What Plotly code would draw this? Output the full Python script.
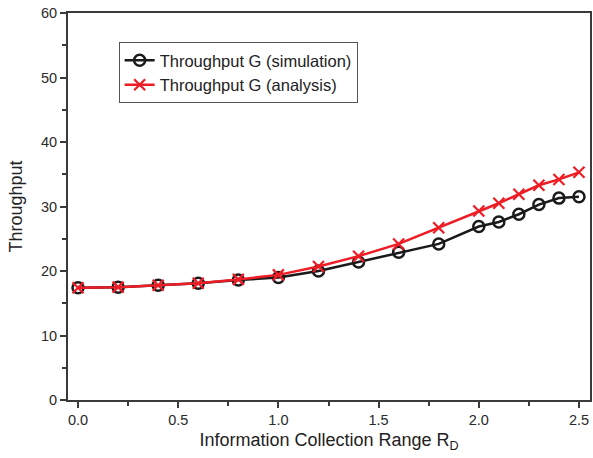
import plotly.graph_objects as go

x_vals = [0.0, 0.2, 0.4, 0.6, 0.8, 1.0, 1.2, 1.4, 1.6, 1.8, 2.0, 2.1, 2.2, 2.3, 2.4, 2.5]
sim_vals = [17.4, 17.5, 17.8, 18.1, 18.6, 19.0, 20.0, 21.4, 22.9, 24.2, 26.9, 27.6, 28.8, 30.3, 31.3, 31.5]
ana_vals = [17.4, 17.5, 17.8, 18.1, 18.7, 19.4, 20.7, 22.3, 24.2, 26.7, 29.3, 30.5, 31.9, 33.3, 34.2, 35.3]
x_ticks = [0.0, 0.5, 1.0, 1.5, 2.0, 2.5]
x_ticklabels = ["0.0", "0.5", "1.0", "1.5", "2.0", "2.5"]
y_ticks = [0, 10, 20, 30, 40, 50, 60]

axis_color = "#3a3a3a"
font_fam = "Liberation Sans, Arial, sans-serif"

fig = go.Figure()
fig.add_trace(go.Scatter(
    x=x_vals, y=sim_vals, mode="lines+markers", name="Throughput G (simulation)",
    line=dict(color="#1a1a1a", width=2.5),
    marker=dict(symbol="circle-open", size=11, color="#1a1a1a", line=dict(width=2.5)),
))
fig.add_trace(go.Scatter(
    x=x_vals, y=ana_vals, mode="lines+markers", name="Throughput G (analysis)",
    line=dict(color="#ee1c25", width=2.5),
    marker=dict(symbol="x-thin-open", size=11, color="#ee1c25", line=dict(width=2.2, color="#ee1c25")),
))

fig.update_layout(
    width=593, height=458,
    margin=dict(l=68, r=3, t=13, b=58),
    paper_bgcolor="white", plot_bgcolor="white",
    font=dict(family=font_fam, size=14, color=axis_color),
    showlegend=True,
    legend=dict(
        x=0.097, y=0.925, xanchor="left", yanchor="top",
        bgcolor="white", bordercolor="#555555", borderwidth=1,
        font=dict(size=16.5, color="#222222"),
        tracegroupgap=0, itemwidth=30,
    ),
    xaxis=dict(
        range=[-0.05, 2.555], tickvals=x_ticks, ticktext=x_ticklabels,
        showline=True, linecolor=axis_color, linewidth=2, mirror=True,
        ticks="outside", ticklen=6, tickwidth=1.5, tickcolor=axis_color,
        minor=dict(dtick=0.25, tick0=0, ticks="outside", ticklen=4, tickwidth=1.5, tickcolor=axis_color, showgrid=False),
        showgrid=False, zeroline=False, automargin=False,
        title=dict(text="Information Collection Range R<sub>D</sub>", font=dict(size=18, color="#222222"), standoff=6),
        tickfont=dict(size=14.5, color="#2a2a2a"),
    ),
    yaxis=dict(
        range=[0, 60], tickvals=y_ticks,
        showline=True, linecolor=axis_color, linewidth=2, mirror=True,
        ticks="outside", ticklen=6, tickwidth=1.5, tickcolor=axis_color,
        minor=dict(dtick=5, tick0=0, ticks="outside", ticklen=4, tickwidth=1.5, tickcolor=axis_color, showgrid=False),
        showgrid=False, zeroline=False, automargin=False,
        title=dict(text="Throughput", font=dict(size=18, color="#222222"), standoff=14),
        tickfont=dict(size=14.5, color="#2a2a2a"),
    ),
)

fig.write_html("out.html", config={"displayModeBar": False},
               post_script="document.body.style.margin='0';")
